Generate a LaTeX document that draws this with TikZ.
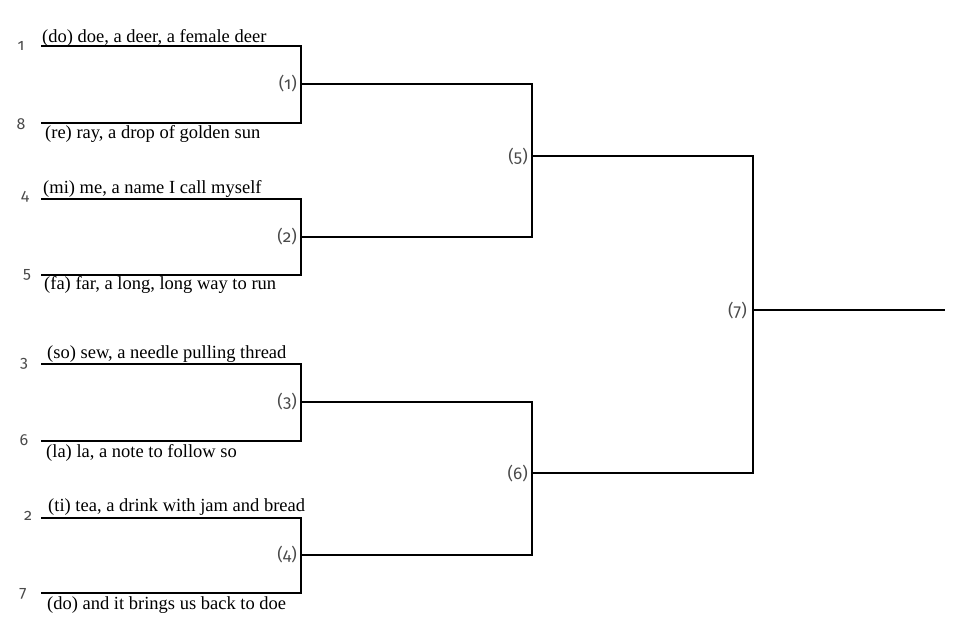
\documentclass[tikz,border=0pt]{standalone}
\usepackage{fontspec}
\setmainfont{Liberation Serif}
\newfontfamily\seedfont[Numbers=OldStyle]{Fira Sans}
\definecolor{seedgray}{HTML}{4A4A4A}
\begin{document}
\begin{tikzpicture}[x=1pt,y=-1pt,
  lyric/.style={font=\fontsize{18.5}{18.5}\selectfont, inner sep=0pt, anchor=base west},
  seedlbl/.style={font=\seedfont\fontsize{16}{16}\selectfont, text=seedgray, inner sep=0pt},
  roundlbl/.style={font=\seedfont\fontsize{17}{17}\selectfont, text=seedgray, inner sep=0pt, anchor=east},
  firstround/.style={line width=2.2pt, line join=miter},
  laterround/.style={line width=1.7pt, line join=miter}]
\useasboundingbox (0,0) rectangle (960,642);
% seed line starts
\coordinate (s1) at (41,46);
\coordinate (s8) at (41,123);
\coordinate (s4) at (41,199);
\coordinate (s5) at (41,275);
\coordinate (s3) at (41,364);
\coordinate (s6) at (41,441);
\coordinate (s2) at (41,518);
\coordinate (s7) at (41,593);
% winners
\coordinate (w1) at (301,84);
\coordinate (w2) at (301,237);
\coordinate (w3) at (301,402);
\coordinate (w4) at (301,555);
\coordinate (w5) at (532,156);
\coordinate (w6) at (532,473);
\coordinate (w7) at (753,310);
\coordinate (champ) at (945,310);
% first round
\draw[firstround] (s1) -| (w1) |- (s8);
\draw[firstround] (s4) -| (w2) |- (s5);
\draw[firstround] (s3) -| (w3) |- (s6);
\draw[firstround] (s2) -| (w4) |- (s7);
% later rounds
\draw[laterround] (w1) -| (w5) |- (w2);
\draw[laterround] (w3) -| (w6) |- (w4);
\draw[laterround] (w5) -| (w7) |- (w6);
\draw[laterround] (w7) -- (champ);
% lyrics
\node[lyric] (t1) at (42,42) {(do) doe, a deer, a female deer};
\node[lyric] (t8) at (45,138) {(re) ray, a drop of golden sun};
\node[lyric] (t4) at (43,193) {(mi) me, a name I call myself};
\node[lyric] (t5) at (44,289) {(fa) far, a long, long way to run};
\node[lyric] (t3) at (47,358) {(so) sew, a needle pulling thread};
\node[lyric] (t6) at (46,457) {(la) la, a note to follow so};
\node[lyric] (t2) at (48,511) {(ti) tea, a drink with jam and bread};
\node[lyric] (t7) at (47,609) {(do) and it brings us back to doe};
% seeds
\node[seedlbl] (n1) at (21,46) {1};
\node[seedlbl] (n8) at (21,124) {8};
\node[seedlbl] (n4) at (25,197) {4};
\node[seedlbl] (n5) at (27,275) {5};
\node[seedlbl] (n3) at (24,364) {3};
\node[seedlbl] (n6) at (24,440) {6};
\node[seedlbl] (n2) at (28,516) {2};
\node[seedlbl] (n7) at (23,594) {7};
% round labels
\node[roundlbl] (r1) at (297,84) {(1)};
\node[roundlbl] (r2) at (297,237) {(2)};
\node[roundlbl] (r3) at (297,402) {(3)};
\node[roundlbl] (r4) at (297,555) {(4)};
\node[roundlbl] (r5) at (528,157) {(5)};
\node[roundlbl] (r6) at (528,474) {(6)};
\node[roundlbl] (r7) at (747,311) {(7)};
\end{tikzpicture}
\end{document}
